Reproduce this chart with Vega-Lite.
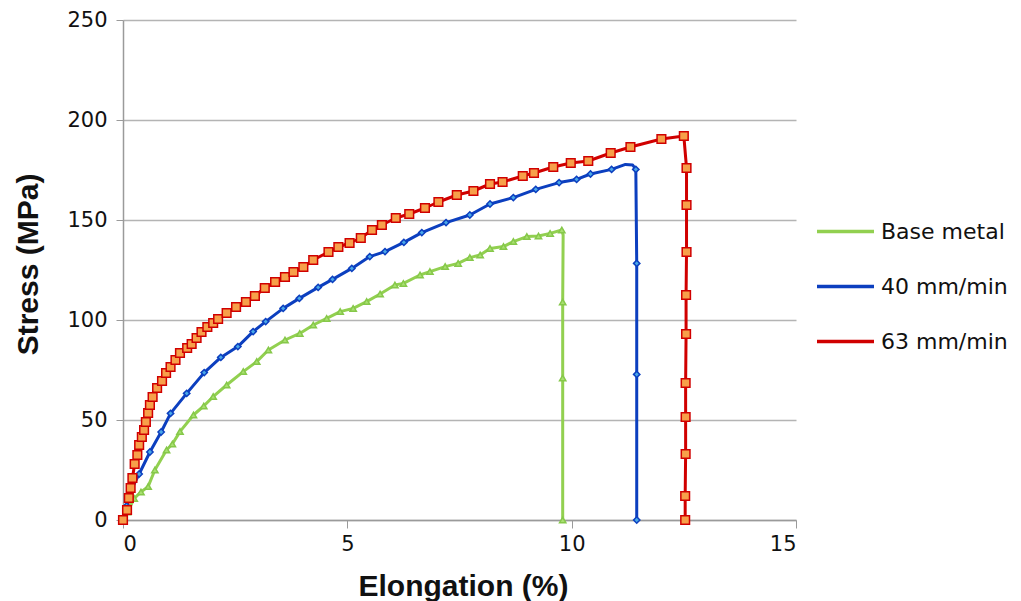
{
  "$schema": "https://vega.github.io/schema/vega-lite/v6.json",
  "width": 673,
  "height": 500,
  "autosize": {"type": "none"},
  "padding": {"left": 123, "top": 20, "right": 225, "bottom": 81},
  "background": "white",
  "config": {
    "view": {"stroke": null},
    "font": "DejaVu Sans"
  },
  "datasets": {
    "curves": [
      {"s":"Base metal","i":1,"x":0,"y":0,"m":1},
      {"s":"Base metal","i":2,"x":0.1,"y":4,"m":1},
      {"s":"Base metal","i":3,"x":0.25,"y":10.8,"m":1},
      {"s":"Base metal","i":4,"x":0.4,"y":14,"m":1},
      {"s":"Base metal","i":5,"x":0.56,"y":16.7,"m":1},
      {"s":"Base metal","i":6,"x":0.71,"y":25,"m":1},
      {"s":"Base metal","i":7,"x":0.97,"y":35,"m":1},
      {"s":"Base metal","i":8,"x":1.1,"y":38,"m":1},
      {"s":"Base metal","i":9,"x":1.27,"y":44.2,"m":1},
      {"s":"Base metal","i":10,"x":1.57,"y":52.5,"m":1},
      {"s":"Base metal","i":11,"x":1.8,"y":57,"m":1},
      {"s":"Base metal","i":12,"x":2.01,"y":61.7,"m":1},
      {"s":"Base metal","i":13,"x":2.31,"y":67.5,"m":1},
      {"s":"Base metal","i":14,"x":2.68,"y":74.2,"m":1},
      {"s":"Base metal","i":15,"x":2.98,"y":79.2,"m":1},
      {"s":"Base metal","i":16,"x":3.24,"y":85,"m":1},
      {"s":"Base metal","i":17,"x":3.61,"y":90,"m":1},
      {"s":"Base metal","i":18,"x":3.94,"y":93.3,"m":1},
      {"s":"Base metal","i":19,"x":4.24,"y":97.5,"m":1},
      {"s":"Base metal","i":20,"x":4.54,"y":100.8,"m":1},
      {"s":"Base metal","i":21,"x":4.84,"y":104.2,"m":1},
      {"s":"Base metal","i":22,"x":5.13,"y":105.8,"m":1},
      {"s":"Base metal","i":23,"x":5.43,"y":109.2,"m":1},
      {"s":"Base metal","i":24,"x":5.73,"y":113,"m":1},
      {"s":"Base metal","i":25,"x":6.06,"y":117.5,"m":1},
      {"s":"Base metal","i":26,"x":6.25,"y":118.3,"m":1},
      {"s":"Base metal","i":27,"x":6.62,"y":122.5,"m":1},
      {"s":"Base metal","i":28,"x":6.84,"y":124.2,"m":1},
      {"s":"Base metal","i":29,"x":7.18,"y":126.7,"m":1},
      {"s":"Base metal","i":30,"x":7.47,"y":128.3,"m":1},
      {"s":"Base metal","i":31,"x":7.73,"y":131.2,"m":1},
      {"s":"Base metal","i":32,"x":7.96,"y":132.5,"m":1},
      {"s":"Base metal","i":33,"x":8.18,"y":135.8,"m":1},
      {"s":"Base metal","i":34,"x":8.48,"y":136.7,"m":1},
      {"s":"Base metal","i":35,"x":8.7,"y":139.2,"m":1},
      {"s":"Base metal","i":36,"x":9.0,"y":141.7,"m":1},
      {"s":"Base metal","i":37,"x":9.26,"y":142,"m":1},
      {"s":"Base metal","i":38,"x":9.52,"y":143.3,"m":1},
      {"s":"Base metal","i":39,"x":9.78,"y":145,"m":1},
      {"s":"Base metal","i":40,"x":9.81,"y":142.5,"m":0},
      {"s":"Base metal","i":41,"x":9.8,"y":109,"m":1},
      {"s":"Base metal","i":42,"x":9.8,"y":71,"m":1},
      {"s":"Base metal","i":43,"x":9.8,"y":0,"m":1},

      {"s":"40 mm/min","i":1,"x":0,"y":0,"m":1},
      {"s":"40 mm/min","i":2,"x":0.08,"y":7,"m":1},
      {"s":"40 mm/min","i":3,"x":0.18,"y":15,"m":1},
      {"s":"40 mm/min","i":4,"x":0.36,"y":23,"m":1},
      {"s":"40 mm/min","i":5,"x":0.6,"y":34,"m":1},
      {"s":"40 mm/min","i":6,"x":0.85,"y":44,"m":1},
      {"s":"40 mm/min","i":7,"x":1.06,"y":53.3,"m":1},
      {"s":"40 mm/min","i":8,"x":1.42,"y":63.3,"m":1},
      {"s":"40 mm/min","i":9,"x":1.81,"y":73.7,"m":1},
      {"s":"40 mm/min","i":10,"x":2.18,"y":81.3,"m":1},
      {"s":"40 mm/min","i":11,"x":2.56,"y":86.7,"m":1},
      {"s":"40 mm/min","i":12,"x":2.9,"y":94.2,"m":1},
      {"s":"40 mm/min","i":13,"x":3.18,"y":99.2,"m":1},
      {"s":"40 mm/min","i":14,"x":3.57,"y":105.8,"m":1},
      {"s":"40 mm/min","i":15,"x":3.93,"y":110.8,"m":1},
      {"s":"40 mm/min","i":16,"x":4.35,"y":116.3,"m":1},
      {"s":"40 mm/min","i":17,"x":4.67,"y":120.3,"m":1},
      {"s":"40 mm/min","i":18,"x":5.1,"y":125.8,"m":1},
      {"s":"40 mm/min","i":19,"x":5.5,"y":131.7,"m":1},
      {"s":"40 mm/min","i":20,"x":5.84,"y":134.2,"m":1},
      {"s":"40 mm/min","i":21,"x":6.26,"y":138.8,"m":1},
      {"s":"40 mm/min","i":22,"x":6.66,"y":143.7,"m":1},
      {"s":"40 mm/min","i":23,"x":7.2,"y":148.7,"m":1},
      {"s":"40 mm/min","i":24,"x":7.73,"y":152.5,"m":1},
      {"s":"40 mm/min","i":25,"x":8.18,"y":158,"m":1},
      {"s":"40 mm/min","i":26,"x":8.7,"y":161.2,"m":1},
      {"s":"40 mm/min","i":27,"x":9.2,"y":165.3,"m":1},
      {"s":"40 mm/min","i":28,"x":9.72,"y":168.7,"m":1},
      {"s":"40 mm/min","i":29,"x":10.11,"y":170.3,"m":1},
      {"s":"40 mm/min","i":30,"x":10.42,"y":173,"m":1},
      {"s":"40 mm/min","i":31,"x":10.89,"y":175.3,"m":1},
      {"s":"40 mm/min","i":32,"x":11.2,"y":177.8,"m":0},
      {"s":"40 mm/min","i":33,"x":11.36,"y":177.5,"m":0},
      {"s":"40 mm/min","i":34,"x":11.43,"y":175.3,"m":1},
      {"s":"40 mm/min","i":35,"x":11.45,"y":128.3,"m":1},
      {"s":"40 mm/min","i":36,"x":11.45,"y":72.8,"m":1},
      {"s":"40 mm/min","i":37,"x":11.45,"y":0,"m":1},

      {"s":"63 mm/min","i":1,"x":0,"y":0,"m":1},
      {"s":"63 mm/min","i":2,"x":0.09,"y":5,"m":1},
      {"s":"63 mm/min","i":3,"x":0.13,"y":11,"m":1},
      {"s":"63 mm/min","i":4,"x":0.17,"y":16,"m":1},
      {"s":"63 mm/min","i":5,"x":0.21,"y":21,"m":1},
      {"s":"63 mm/min","i":6,"x":0.26,"y":28,"m":1},
      {"s":"63 mm/min","i":7,"x":0.32,"y":32.5,"m":1},
      {"s":"63 mm/min","i":8,"x":0.36,"y":37.5,"m":1},
      {"s":"63 mm/min","i":9,"x":0.42,"y":41.5,"m":1},
      {"s":"63 mm/min","i":10,"x":0.47,"y":45,"m":1},
      {"s":"63 mm/min","i":11,"x":0.51,"y":49,"m":1},
      {"s":"63 mm/min","i":12,"x":0.56,"y":53.5,"m":1},
      {"s":"63 mm/min","i":13,"x":0.6,"y":57.5,"m":1},
      {"s":"63 mm/min","i":14,"x":0.66,"y":61.5,"m":1},
      {"s":"63 mm/min","i":15,"x":0.76,"y":66,"m":1},
      {"s":"63 mm/min","i":16,"x":0.87,"y":69.5,"m":1},
      {"s":"63 mm/min","i":17,"x":0.96,"y":73.5,"m":1},
      {"s":"63 mm/min","i":18,"x":1.06,"y":76.5,"m":1},
      {"s":"63 mm/min","i":19,"x":1.17,"y":80,"m":1},
      {"s":"63 mm/min","i":20,"x":1.27,"y":83.5,"m":1},
      {"s":"63 mm/min","i":21,"x":1.43,"y":86,"m":1},
      {"s":"63 mm/min","i":22,"x":1.53,"y":88,"m":1},
      {"s":"63 mm/min","i":23,"x":1.64,"y":91,"m":1},
      {"s":"63 mm/min","i":24,"x":1.75,"y":94,"m":1},
      {"s":"63 mm/min","i":25,"x":1.88,"y":96.5,"m":1},
      {"s":"63 mm/min","i":26,"x":2.01,"y":98.5,"m":1},
      {"s":"63 mm/min","i":27,"x":2.12,"y":100.5,"m":1},
      {"s":"63 mm/min","i":28,"x":2.31,"y":103.5,"m":1},
      {"s":"63 mm/min","i":29,"x":2.52,"y":106.5,"m":1},
      {"s":"63 mm/min","i":30,"x":2.74,"y":109,"m":1},
      {"s":"63 mm/min","i":31,"x":2.94,"y":112,"m":1},
      {"s":"63 mm/min","i":32,"x":3.16,"y":116,"m":1},
      {"s":"63 mm/min","i":33,"x":3.39,"y":119,"m":1},
      {"s":"63 mm/min","i":34,"x":3.61,"y":121.5,"m":1},
      {"s":"63 mm/min","i":35,"x":3.8,"y":124,"m":1},
      {"s":"63 mm/min","i":36,"x":4.02,"y":126.5,"m":1},
      {"s":"63 mm/min","i":37,"x":4.24,"y":130,"m":1},
      {"s":"63 mm/min","i":38,"x":4.58,"y":134,"m":1},
      {"s":"63 mm/min","i":39,"x":4.8,"y":136.5,"m":1},
      {"s":"63 mm/min","i":40,"x":5.05,"y":138.5,"m":1},
      {"s":"63 mm/min","i":41,"x":5.3,"y":141,"m":1},
      {"s":"63 mm/min","i":42,"x":5.55,"y":145,"m":1},
      {"s":"63 mm/min","i":43,"x":5.77,"y":147.5,"m":1},
      {"s":"63 mm/min","i":44,"x":6.08,"y":151,"m":1},
      {"s":"63 mm/min","i":45,"x":6.38,"y":153,"m":1},
      {"s":"63 mm/min","i":46,"x":6.73,"y":156,"m":1},
      {"s":"63 mm/min","i":47,"x":7.03,"y":159,"m":1},
      {"s":"63 mm/min","i":48,"x":7.44,"y":162.5,"m":1},
      {"s":"63 mm/min","i":49,"x":7.81,"y":164.5,"m":1},
      {"s":"63 mm/min","i":50,"x":8.18,"y":168,"m":1},
      {"s":"63 mm/min","i":51,"x":8.46,"y":169,"m":1},
      {"s":"63 mm/min","i":52,"x":8.91,"y":172,"m":1},
      {"s":"63 mm/min","i":53,"x":9.16,"y":173.5,"m":1},
      {"s":"63 mm/min","i":54,"x":9.59,"y":176.5,"m":1},
      {"s":"63 mm/min","i":55,"x":9.98,"y":178.5,"m":1},
      {"s":"63 mm/min","i":56,"x":10.37,"y":179.5,"m":1},
      {"s":"63 mm/min","i":57,"x":10.87,"y":183.5,"m":1},
      {"s":"63 mm/min","i":58,"x":11.31,"y":186.5,"m":1},
      {"s":"63 mm/min","i":59,"x":12.0,"y":190.5,"m":1},
      {"s":"63 mm/min","i":60,"x":12.5,"y":192,"m":1},
      {"s":"63 mm/min","i":61,"x":12.56,"y":176,"m":1},
      {"s":"63 mm/min","i":62,"x":12.56,"y":157.5,"m":1},
      {"s":"63 mm/min","i":63,"x":12.56,"y":134,"m":1},
      {"s":"63 mm/min","i":64,"x":12.55,"y":112.5,"m":1},
      {"s":"63 mm/min","i":65,"x":12.55,"y":93,"m":1},
      {"s":"63 mm/min","i":66,"x":12.54,"y":68.5,"m":1},
      {"s":"63 mm/min","i":67,"x":12.54,"y":51.5,"m":1},
      {"s":"63 mm/min","i":68,"x":12.54,"y":33,"m":1},
      {"s":"63 mm/min","i":69,"x":12.53,"y":12,"m":1},
      {"s":"63 mm/min","i":70,"x":12.53,"y":0,"m":1}
    ]
  },
  "data": {"name": "curves"},
  "encoding": {
    "x": {
      "field": "x", "type": "quantitative",
      "scale": {"domain": [0, 15], "nice": false},
      "axis": {
        "title": "Elongation (%)",
        "values": [0, 5, 10, 15],
        "grid": false,
        "domainColor": "#9a9a9a", "domainWidth": 1.5,
        "tickColor": "#9a9a9a", "tickSize": 8, "tickWidth": 1,
        "labelFont": "DejaVu Sans", "labelFontSize": 21, "labelColor": "#111111", "labelPadding": 5,
        "titleFont": "Liberation Sans", "titleFontSize": 30, "titleFontWeight": "bold", "titleColor": "#111111",
        "titleBaseline": "alphabetic", "titleY": 75, "titleX": 340
      }
    },
    "y": {
      "field": "y", "type": "quantitative",
      "scale": {"domain": [0, 250], "nice": false},
      "axis": {
        "title": "Stress (MPa)",
        "values": [0, 50, 100, 150, 200, 250],
        "grid": true, "gridColor": "#b4b4b4", "gridWidth": 1.3,
        "domainColor": "#9a9a9a", "domainWidth": 1.5,
        "tickColor": "#9a9a9a", "tickSize": 7, "tickWidth": 1,
        "labelFont": "DejaVu Sans", "labelFontSize": 21, "labelColor": "#111111", "labelPadding": 9,
        "titleFont": "Liberation Sans", "titleFontSize": 30, "titleFontWeight": "bold", "titleColor": "#111111",
        "titleAngle": -90, "titleBaseline": "middle", "titleX": -95, "titleY": 244
      }
    }
  },
  "layer": [
    {
      "mark": {"type": "line", "strokeWidth": 3, "strokeJoin": "round"},
      "encoding": {
        "color": {
          "field": "s", "type": "nominal",
          "scale": {"domain": ["Base metal", "40 mm/min", "63 mm/min"], "range": ["#92d050", "#0c3fbf", "#d00000"]},
          "legend": {
            "title": null,
            "orient": "none",
            "legendX": 692,
            "legendY": 181,
            "symbolType": "stroke",
            "symbolSize": 3249,
            "symbolStrokeWidth": 3.5,
            "labelFont": "DejaVu Sans",
            "labelFontSize": 22,
            "labelColor": "#111111",
            "labelOffset": 5,
            "rowPadding": 13
          }
        },
        "order": {"field": "i", "type": "quantitative"}
      }
    },
    {
      "transform": [{"filter": "datum.m == 1 && datum.s == 'Base metal'"}],
      "mark": {"type": "point", "shape": "triangle-up", "filled": true, "fill": "#a8e070", "stroke": "#86c84a", "strokeWidth": 1.5, "size": 40, "opacity": 1}
    },
    {
      "transform": [{"filter": "datum.m == 1 && datum.s == '40 mm/min'"}],
      "mark": {"type": "point", "shape": "diamond", "filled": true, "fill": "#4aa8e8", "stroke": "#0c3fbf", "strokeWidth": 1.5, "size": 40, "opacity": 1}
    },
    {
      "transform": [{"filter": "datum.m == 1 && datum.s == '63 mm/min'"}],
      "mark": {"type": "point", "shape": "square", "filled": true, "fill": "#f7a04a", "stroke": "#d00000", "strokeWidth": 1.5, "size": 75, "opacity": 1}
    }
  ]
}
